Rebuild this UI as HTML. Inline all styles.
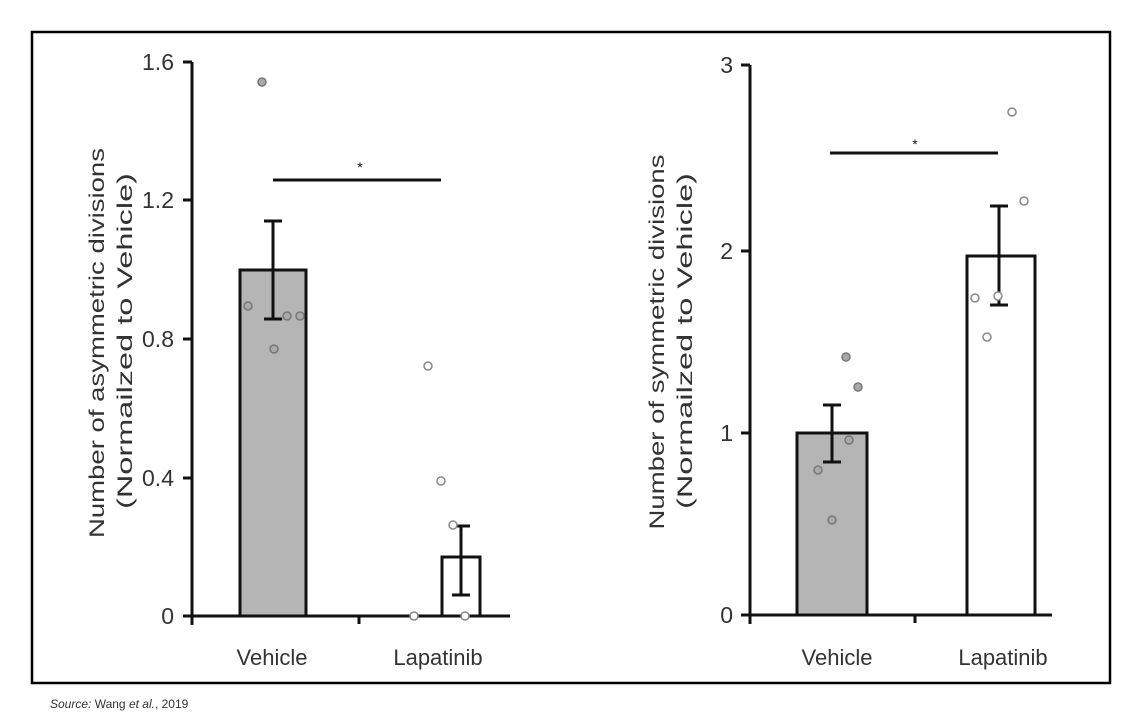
<!DOCTYPE html>
<html><head><style>
html,body{margin:0;padding:0;background:#fff;}
svg{display:block;}
text{font-family:"Liberation Sans",Arial,sans-serif;fill:#333;}
</style></head><body>
<svg width="1132" height="722" viewBox="0 0 1132 722" xmlns="http://www.w3.org/2000/svg">
<rect x="32" y="32" width="1078" height="651" fill="none" stroke="#000" stroke-width="2.5"/>
<text x="50" y="708" font-size="12" font-style="italic">Source: <tspan font-style="normal">Wang </tspan>et al.<tspan font-style="normal">, 2019</tspan></text>

<!-- LEFT CHART -->
<g stroke="#111" stroke-width="3" fill="none">
<line x1="192" y1="62" x2="192" y2="625"/>
<line x1="183" y1="62" x2="192" y2="62"/>
<line x1="183" y1="200" x2="192" y2="200"/>
<line x1="183" y1="339" x2="192" y2="339"/>
<line x1="183" y1="478" x2="192" y2="478"/>
<line x1="183" y1="616" x2="510" y2="616"/>
<line x1="359" y1="616" x2="359" y2="624"/>
</g>
<g font-size="23" text-anchor="end">
<text x="174" y="70">1.6</text><text x="174" y="208">1.2</text><text x="174" y="347">0.8</text><text x="174" y="486">0.4</text><text x="174" y="624">0</text>
</g>
<rect x="240" y="270" width="66" height="346" fill="#b5b5b5" stroke="#111" stroke-width="3"/>
<rect x="442" y="557" width="38" height="59" fill="#fff" stroke="#111" stroke-width="3"/>
<g stroke="#111" stroke-width="3">
<line x1="273" y1="221" x2="273" y2="319"/><line x1="264" y1="221" x2="282" y2="221"/><line x1="264" y1="319" x2="282" y2="319"/>
<line x1="461" y1="526" x2="461" y2="595"/><line x1="452" y1="526" x2="470" y2="526"/><line x1="452" y1="595" x2="470" y2="595"/>
<line x1="273" y1="180" x2="441" y2="180"/>
</g>
<text x="360" y="172" font-size="14" text-anchor="middle" style="fill:#111">*</text>
<g fill="#aaa" stroke="#777" stroke-width="1.5">
<circle cx="262" cy="82" r="4"/><circle cx="248" cy="306" r="4"/><circle cx="287" cy="316" r="4"/><circle cx="300" cy="316" r="4"/><circle cx="274" cy="349" r="4"/>
</g>
<g fill="#fff" stroke="#888" stroke-width="1.5">
<circle cx="428" cy="366" r="4"/><circle cx="441" cy="481" r="4"/><circle cx="453" cy="525" r="4"/><circle cx="414" cy="616" r="4"/><circle cx="465" cy="616" r="4"/>
</g>
<g font-size="22" text-anchor="middle">
<text x="272" y="665">Vehicle</text><text x="438" y="665">Lapatinib</text>
</g>
<g font-size="21" text-anchor="middle">
<text transform="translate(104,343) rotate(-90)" textLength="390" lengthAdjust="spacingAndGlyphs">Number of asymmetric divisions</text>
<text transform="translate(132,341) rotate(-90)" textLength="336" lengthAdjust="spacingAndGlyphs">(Normailzed to Vehicle)</text>
</g>

<!-- RIGHT CHART -->
<g stroke="#111" stroke-width="3" fill="none">
<line x1="750" y1="65" x2="750" y2="624"/>
<line x1="741" y1="65" x2="750" y2="65"/>
<line x1="741" y1="251" x2="750" y2="251"/>
<line x1="741" y1="433" x2="750" y2="433"/>
<line x1="741" y1="615" x2="1052" y2="615"/>
<line x1="915" y1="615" x2="915" y2="623"/>
</g>
<g font-size="23" text-anchor="end">
<text x="733" y="73">3</text><text x="733" y="259">2</text><text x="733" y="441">1</text><text x="733" y="623">0</text>
</g>
<rect x="797" y="433" width="70" height="182" fill="#b5b5b5" stroke="#111" stroke-width="3"/>
<rect x="967" y="256" width="68" height="359" fill="#fff" stroke="#111" stroke-width="3"/>
<g stroke="#111" stroke-width="3">
<line x1="832" y1="405" x2="832" y2="462"/><line x1="823" y1="405" x2="841" y2="405"/><line x1="823" y1="462" x2="841" y2="462"/>
<line x1="999" y1="206" x2="999" y2="305"/><line x1="990" y1="206" x2="1008" y2="206"/><line x1="990" y1="305" x2="1008" y2="305"/>
<line x1="830" y1="153" x2="998" y2="153"/>
</g>
<text x="915" y="149" font-size="14" text-anchor="middle" style="fill:#111">*</text>
<g fill="#aaa" stroke="#777" stroke-width="1.5">
<circle cx="818" cy="470" r="4"/><circle cx="832" cy="520" r="4"/><circle cx="849" cy="440" r="4"/><circle cx="846" cy="357" r="4"/><circle cx="858" cy="387" r="4"/>
</g>
<g fill="#fff" stroke="#888" stroke-width="1.5">
<circle cx="1012" cy="112" r="4"/><circle cx="1024" cy="201" r="4"/><circle cx="975" cy="298" r="4"/><circle cx="987" cy="337" r="4"/><circle cx="998" cy="296" r="4"/>
</g>
<g font-size="22" text-anchor="middle">
<text x="837" y="665">Vehicle</text><text x="1003" y="665">Lapatinib</text>
</g>
<g font-size="21" text-anchor="middle">
<text transform="translate(664,342) rotate(-90)" textLength="375" lengthAdjust="spacingAndGlyphs">Number of symmetric divisions</text>
<text transform="translate(692,341) rotate(-90)" textLength="336" lengthAdjust="spacingAndGlyphs">(Normailzed to Vehicle)</text>
</g>
</svg>
</body></html>
